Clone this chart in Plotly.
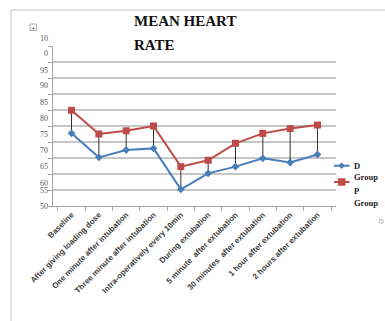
import plotly.graph_objects as go

# Mean heart rate readings per time point
categories = [
    "Baseline",
    "After giving loading dose",
    "One minute after intubation",
    "Three minute after intubation",
    "Intra-operatively every 10min",
    "During extubation",
    "5 minute  after extubation",
    "30 minutes  after extubation",
    "1 hour after extubation",
    "2 hours after extubation",
]
d_group = [72.7, 65.2, 67.5, 68.0, 55.2, 60.2, 62.3, 64.9, 63.6, 66.1]
p_group = [79.9, 72.5, 73.5, 75.0, 62.3, 64.3, 69.6, 72.7, 74.2, 75.3]

# Value-axis labels and the heights at which they are printed
y_tick_text = ["10", "0", "95", "90", "85", "80", "75", "70", "65", "60", "55", "50"]
y_tick_at = [102.3, 97.6, 92.4, 87.6, 82.5, 77.5, 72.5, 67.3, 62.3, 57.1, 54.8, 50.0]
Y_MIN, Y_MAX = 50, 100

W, H = 385, 321
ML, MR, MT, MB = 53, 49, 46, 115
PW, PH = W - ML - MR, H - MT - MB

BLUE = "#4A7EBB"
RED = "#BE4B48"


def px(x):
    return (x - ML) / PW


def py(y):
    return (H - MB - y) / PH


# High-low connectors between the two groups
hl_x, hl_y = [], []
for c, p, d in zip(categories, p_group, d_group):
    hl_x += [c, c, None]
    hl_y += [p, d, None]

fig = go.Figure()
fig.add_trace(go.Scatter(x=hl_x, y=hl_y, mode="lines",
                         line=dict(color="#303030", width=1), hoverinfo="skip",
                         showlegend=False))
fig.add_trace(go.Scatter(x=categories, y=d_group, mode="lines+markers", name="D Group",
                         line=dict(color=BLUE, width=2),
                         marker=dict(symbol="diamond", size=6, color=BLUE)))
fig.add_trace(go.Scatter(x=categories, y=p_group, mode="lines+markers", name="P Group",
                         line=dict(color=RED, width=2),
                         marker=dict(symbol="square", size=7, color=RED)))

shapes = []
annotations = []

# Outer frame
shapes.append(dict(type="rect", xref="paper", yref="paper",
                   x0=px(11), x1=px(386), y0=py(330), y1=py(10),
                   line=dict(color="#c4c4c4", width=1), layer="below"))
# Move handle box
shapes.append(dict(type="rect", xref="paper", yref="paper",
                   x0=px(30), x1=px(36.5), y0=py(30.5), y1=py(24),
                   line=dict(color="#9a9a9a", width=0.8)))
annotations.append(dict(text="+", xref="paper", yref="paper", x=px(33.3), y=py(27.2),
                        showarrow=False, font=dict(size=8, color="#666666"),
                        xanchor="center", yanchor="middle"))
# Small resize box
shapes.append(dict(type="rect", xref="paper", yref="paper",
                   x0=px(379.5), x1=px(383), y0=py(223), y1=py(219.5),
                   line=dict(color="#aaaaaa", width=0.8)))

# Value-axis labels
for t, v in zip(y_tick_text, y_tick_at):
    annotations.append(dict(text=t, xref="paper", yref="paper", x=0,
                            y=(v - Y_MIN) / (Y_MAX - Y_MIN), xshift=-3,
                            xanchor="right", yanchor="middle", showarrow=False,
                            font=dict(family="Liberation Serif", size=8, color="#595959")))

# Title
annotations.append(dict(text="<b>MEAN HEART</b>", xref="paper", yref="paper",
                        x=px(132), y=py(21), xanchor="left", yanchor="middle",
                        showarrow=False,
                        font=dict(family="Liberation Serif", size=15, color="#111111")))
annotations.append(dict(text="<b>RATE</b>", xref="paper", yref="paper",
                        x=px(132), y=py(45), xanchor="left", yanchor="middle",
                        showarrow=False,
                        font=dict(family="Liberation Serif", size=15, color="#111111")))

# Legend
legend_font = dict(family="Liberation Serif", size=8.5, color="#222222")
for color, sym, ly, lines in [(BLUE, "diamond", 165.7, [("D", 165.5), ("Group", 177.3)]),
                              (RED, "square", 182.0, [("P", 191.0), ("Group", 202.5)])]:
    shapes.append(dict(type="line", xref="paper", yref="paper",
                       x0=px(334), x1=px(349.5), y0=py(ly), y1=py(ly),
                       line=dict(color=color, width=2)))
    cx = 341.7
    if sym == "diamond":
        r = 3
        shapes.append(dict(type="path", xref="paper", yref="paper",
                           path=f"M {px(cx-r)} {py(ly)} L {px(cx)} {py(ly-r)} L {px(cx+r)} {py(ly)} L {px(cx)} {py(ly+r)} Z",
                           fillcolor=color, line=dict(color=color, width=0.5)))
    else:
        r = 3.5
        shapes.append(dict(type="rect", xref="paper", yref="paper",
                           x0=px(cx-r), x1=px(cx+r), y0=py(ly+r), y1=py(ly-r),
                           fillcolor=color, line=dict(color=color, width=0.5)))
    for txt, ty in lines:
        annotations.append(dict(text=f"<b>{txt}</b>", xref="paper", yref="paper",
                                x=px(351.5), y=py(ty), xanchor="left", yanchor="middle",
                                showarrow=False, font=legend_font))

fig.update_layout(
    width=W, height=H,
    margin=dict(l=ML, r=MR, t=MT, b=MB),
    paper_bgcolor="white", plot_bgcolor="white",
    showlegend=False,
    shapes=shapes, annotations=annotations,
    xaxis=dict(type="category", categoryorder="array", categoryarray=categories,
               tickangle=-45, tickson="boundaries", ticks="outside", ticklen=4,
               tickcolor="#a6a6a6", showline=True, linecolor="#a6a6a6", linewidth=1,
               showgrid=False, zeroline=False,
               tickfont=dict(family="Liberation Sans", size=8, color="#404040", weight="bold")),
    yaxis=dict(range=[Y_MIN, Y_MAX], dtick=5, tick0=50, showticklabels=False,
               ticks="outside", ticklen=4, tickcolor="#a6a6a6",
               showline=True, linecolor="#a6a6a6", linewidth=1,
               showgrid=True, gridcolor="#c6c6c6", gridwidth=1.5, zeroline=False),
)

fig.write_html("out.html")
